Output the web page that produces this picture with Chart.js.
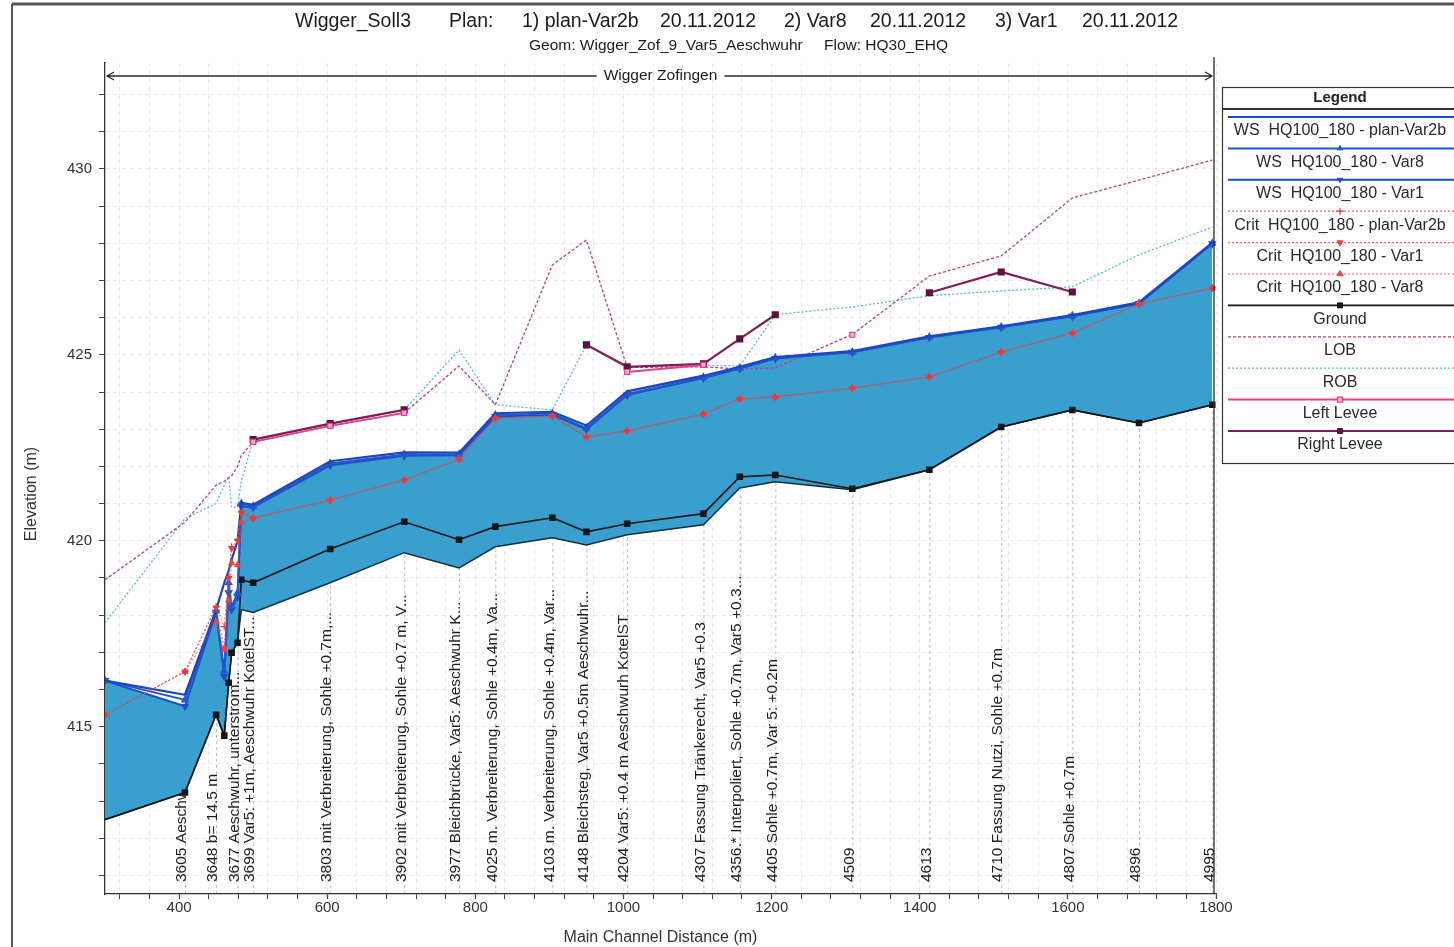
<!DOCTYPE html>
<html>
<head>
<meta charset="utf-8">
<title>Wigger_Soll3 – Längenprofil</title>
<script src="https://cdn.jsdelivr.net/npm/chart.js@4.4.1/dist/chart.umd.min.js"></script>
<style>
  html, body { margin: 0; padding: 0; background: #fff; overflow: hidden; }
  #wrap { position: relative; width: 1454px; height: 947px; }
</style>
</head>
<body>
<div id="wrap"><canvas id="profile" width="1454" height="947"></canvas></div>
<script>
const FONT = "'Liberation Sans', Arial, Helvetica, sans-serif";

// Main channel distance of every cross section (m)
const distance = [300, 408, 450, 461, 467, 471, 479, 484, 500, 604, 704, 778, 827, 904, 950, 1005, 1108, 1157, 1205, 1309, 1413, 1510, 1606, 1696, 1795];

// Channel invert (with markers) and the lower invert of the base geometry
const groundVar  = [412.5, 413.23, 415.32, 414.76, 416.18, 416.99, 417.26, 418.95, 418.87, 419.78, 420.51, 420.03, 420.38, 420.62, 420.24, 420.46, 420.73, 421.72, 421.77, 421.40, 421.91, 423.06, 423.52, 423.17, 423.66];
const groundBase = [412.5, 413.23, 415.32, 414.76, 416.18, 416.99, 417.26, 418.15, 418.07, 418.87, 419.68, 419.27, 419.84, 420.08, 419.89, 420.16, 420.43, 421.42, 421.59, 421.37, 421.91, 423.06, 423.52, 423.17, 423.66];

// Water surface HQ100_180 per plan
const wsVar2b = [416.24, 415.86, 418.15, 418.87, 419.2, 419.49, 420.0, 421.02, 420.97, 422.14, 422.38, 422.37, 423.43, 423.47, 423.1, 424.02, 424.44, 424.68, 424.94, 425.1, 425.5, 425.77, 426.07, 426.41, 428.02];
const wsVar8  = [416.24, 415.72, 418.12, 416.5, 418.87, 418.23, 418.6, 421.0, 420.93, 422.08, 422.32, 422.33, 423.38, 423.42, 423.03, 423.95, 424.4, 424.65, 424.92, 425.08, 425.48, 425.75, 426.05, 426.39, 428.0];
const wsVar1  = [416.24, 415.55, 418.08, 416.35, 418.6, 418.15, 418.5, 420.93, 420.9, 422.03, 422.29, 422.3, 423.34, 423.39, 423.0, 423.92, 424.38, 424.63, 424.9, 425.07, 425.47, 425.74, 426.04, 426.38, 427.99];

// Critical depth water level HQ100_180 per plan
const critVar2b = [415.32, 416.48, 418.23, 417.69, 419.03, 419.84, 420.03, 420.78, 420.62, 421.1, 421.64, 422.2, 423.3, 423.36, 422.8, 422.96, 423.41, 423.82, 423.87, 424.11, 424.41, 425.08, 425.59, 426.37, 426.8];
const critVar1  = [415.32, 416.48, 418.2, 417.1, 419.0, 419.8, 420.0, 420.75, 420.6, 421.08, 421.62, 422.18, 423.28, 423.34, 422.78, 422.94, 423.4, 423.8, 423.86, 424.1, 424.4, 425.07, 425.58, 426.36, 426.79];
const critVar8  = [415.32, 416.48, 417.8, 417.07, 418.4, 419.4, 419.35, 420.5, 420.6, 421.1, 421.64, 422.2, 423.3, 423.36, 422.8, 422.96, 423.41, 423.82, 423.87, 424.11, 424.41, 425.08, 425.59, 426.37, 426.8];

// Bank stations and levees
const lob = [418.95, 420.5, 421.5, 421.6, 421.7, 421.75, 422.0, 422.3, 422.66, 423.09, 423.44, 424.7, 423.66, 427.42, 428.09, 424.66, 424.68, 424.62, 424.65, 425.55, 427.12, 427.66, 429.22, 429.7, 430.24];
const rob = [417.8, 420.6, 421.0, 421.5, 421.72, 420.9, 420.9, 421.6, 422.7, 423.15, 423.52, 425.13, 423.66, 423.52, 425.27, 424.68, 424.72, 424.7, 426.08, 426.29, 426.59, 426.72, 426.83, 427.69, 428.44];
const leftLevee  = [null, null, null, null, null, null, null, null, 422.66, 423.09, 423.44, null, null, null, null, 424.54, 424.73, null, null, 425.54, null, null, null, null, null];
const rightLevee = [null, null, null, null, null, null, null, null, 422.72, 423.15, 423.52, null, null, null, 425.27, 424.68, 424.76, 425.43, 426.08, null, 426.67, 427.23, 426.69, null, null];

// Labelled cross sections (index into distance) and their descriptions
const stationLabelIdx = [1, 2, 6, 8, 9, 10, 11, 12, 13, 14, 15, 16, 17, 18, 19, 20, 21, 22, 23, 24];
const stationLabelText = [
  '3605 Aeschwuhr',
  '3648 b= 14.5 m',
  '3677 Aeschwuhr, unterstrom...',
  '3699 Var5: +1m, Aeschwuhr KotelST...',
  '3803 mit Verbreiterung, Sohle +0.7m,...',
  '3902 mit Verbreiterung, Sohle +0.7 m, V...',
  '3977 Bleichbrücke, Var5: Aeschwuhr K...',
  '4025 m. Verbreiterung, Sohle +0.4m, Va...',
  '4103 m. Verbreiterung, Sohle +0.4m, Var...',
  '4148 Bleichsteg, Var5 +0.5m Aeschwuhr...',
  '4204 Var5: +0.4 m Aeschwurh KotelST',
  '4307 Fassung Tränkerecht, Var5 +0.3',
  '4356.* Interpoliert, Sohle +0.7m, Var5 +0.3...',
  '4405 Sohle +0.7m, Var 5: +0.2m',
  '4509',
  '4613',
  '4710 Fassung Nutzi, Sohle +0.7m',
  '4807 Sohle +0.7m',
  '4896',
  '4995'
];

// Header and axis texts
const titleRuns = [
  [295, 'Wigger_Soll3'], [449, 'Plan:'], [522, '1) plan-Var2b'], [660, '20.11.2012'],
  [784, '2) Var8'], [870, '20.11.2012'], [995, '3) Var1'], [1082, '20.11.2012']
];
const subtitleRuns = [[529, 'Geom: Wigger_Zof_9_Var5_Aeschwuhr'], [824, 'Flow: HQ30_EHQ']];
const reachName = 'Wigger Zofingen';
const yAxisTitle = 'Elevation (m)';

const pts = arr => distance.map((x, i) => ({ x, y: arr[i] }));
// no marker on the outermost section, it sits on the axis
const groundMarks = distance.map((_, i) => (i === 0 ? 0 : 3.5));

const datasets = [
  { label: 'WS  HQ100_180 - plan-Var2b', data: pts(wsVar2b), borderColor: '#1a47c0', borderWidth: 2.2, pointRadius: 0, order: 2 },
  { label: 'WS  HQ100_180 - Var8', data: pts(wsVar8), borderColor: '#2456cc', borderWidth: 2, pointStyle: 'triangle', pointRadius: 3,
    pointBackgroundColor: '#2456cc', pointBorderColor: '#2456cc', order: 2 },
  { label: 'WS  HQ100_180 - Var1', data: pts(wsVar1), borderColor: '#1f4ec4', borderWidth: 2, pointStyle: 'triangle', pointRotation: 180, pointRadius: 3,
    pointBackgroundColor: '#1f4ec4', pointBorderColor: '#1f4ec4', order: 2 },
  { label: 'Crit  HQ100_180 - plan-Var2b', data: pts(critVar2b), borderColor: 'rgba(222,70,70,0.8)', borderWidth: 1, borderDash: [2, 2],
    pointStyle: 'cross', pointRadius: 3.5, pointBorderColor: '#e23a3a', pointBorderWidth: 1.2, order: 1 },
  { label: 'Crit  HQ100_180 - Var1', data: pts(critVar1), borderColor: 'rgba(222,70,70,0.8)', borderWidth: 1, borderDash: [2, 2],
    pointStyle: 'triangle', pointRotation: 180, pointRadius: 3.5, pointBackgroundColor: '#ec4242', pointBorderColor: '#ec4242', order: 1 },
  { label: 'Crit  HQ100_180 - Var8', data: pts(critVar8), borderColor: 'rgba(222,70,70,0.8)', borderWidth: 1, borderDash: [2, 2],
    pointStyle: 'triangle', pointRadius: 3.5, pointBackgroundColor: '#ec4242', pointBorderColor: '#ec4242', order: 1 },
  { label: 'Ground', data: pts(groundVar), borderColor: '#161616', borderWidth: 1.6, pointStyle: 'rect', pointRadius: groundMarks,
    pointBackgroundColor: '#161616', pointBorderColor: '#161616', order: 4 },
  { label: 'LOB', data: pts(lob), borderColor: '#b4428f', borderWidth: 1.3, borderDash: [3, 2], pointRadius: 0, order: 5 },
  { label: 'ROB', data: pts(rob), borderColor: '#58b5de', borderWidth: 1.3, borderDash: [2, 2], pointRadius: 0, order: 5 },
  { label: 'Left Levee', data: pts(leftLevee), borderColor: '#e2418a', borderWidth: 2, pointStyle: 'rect', pointRadius: 3.5,
    pointBackgroundColor: '#f5b3cd', pointBorderColor: '#e2418a', pointBorderWidth: 1.2, order: 3 },
  { label: 'Right Levee', data: pts(rightLevee), borderColor: '#7c2058', borderWidth: 2.2, pointStyle: 'rect', pointRadius: 3.5,
    pointBackgroundColor: '#5e1242', pointBorderColor: '#5e1242', order: 3 },
  { label: 'Ground (base)', data: pts(groundBase), borderColor: '#10303a', borderWidth: 1.5, pointRadius: 0, order: 6 },
  { label: 'Water', data: pts(wsVar1), borderWidth: 0, pointRadius: 0, backgroundColor: 'rgb(56,159,207)', fill: 11, order: 10 }
];
const LEGEND_COUNT = 11;

// Cross-section guides and labels, drawn beneath the water body
const stationPlugin = {
  id: 'stationLabels',
  beforeDatasetsDraw(chart) {
    const { ctx, chartArea: a, scales: { x, y } } = chart;
    ctx.save();
    ctx.beginPath();
    ctx.rect(a.left, a.top, a.right - a.left, a.bottom - a.top);
    ctx.clip();
    stationLabelIdx.forEach((idx, i) => {
      const px = x.getPixelForValue(distance[idx]);
      const bed = y.getPixelForValue(groundBase[idx]);
      ctx.strokeStyle = 'rgba(60,60,60,0.35)';
      ctx.lineWidth = 1;
      ctx.setLineDash([3, 3]);
      ctx.beginPath();
      ctx.moveTo(px + 0.5, a.bottom);
      ctx.lineTo(px + 0.5, bed);
      ctx.stroke();
      ctx.setLineDash([]);
      ctx.save();
      ctx.translate(px - 3, a.bottom - 12);
      ctx.rotate(-Math.PI / 2);
      ctx.font = `15.5px ${FONT}`;
      ctx.fillStyle = '#1e1e1e';
      ctx.textAlign = 'left';
      ctx.textBaseline = 'middle';
      ctx.fillText(stationLabelText[i], 0, 0);
      ctx.restore();
    });
    ctx.restore();
  }
};

// Title, axis title, reach bracket, legend box and frame
const decorPlugin = {
  id: 'decor',
  afterDraw(chart) {
    const { ctx, chartArea: a } = chart;
    ctx.save();
    // frame
    ctx.strokeStyle = '#555';
    ctx.lineWidth = 3;
    ctx.beginPath(); ctx.moveTo(12, 4); ctx.lineTo(1454, 4); ctx.stroke();
    ctx.lineWidth = 2;
    ctx.beginPath(); ctx.moveTo(12, 4); ctx.lineTo(12, 947); ctx.stroke();

    // titles
    ctx.fillStyle = '#1c1c1c';
    ctx.textBaseline = 'middle';
    ctx.textAlign = 'left';
    ctx.font = `19.5px ${FONT}`;
    titleRuns.forEach(([x, t]) => ctx.fillText(t, x, 22));
    ctx.font = `15.5px ${FONT}`;
    subtitleRuns.forEach(([x, t]) => ctx.fillText(t, x, 46));

    // vertical axis title
    ctx.save();
    ctx.translate(32, 494);
    ctx.rotate(-Math.PI / 2);
    ctx.textAlign = 'center';
    ctx.fillStyle = '#333';
    ctx.font = `16px ${FONT}`;
    ctx.fillText(yAxisTitle, 0, 0);
    ctx.restore();

    // reach bracket
    const yA = 76, L = a.left, R = a.right;
    ctx.strokeStyle = '#2a2a2a';
    ctx.lineWidth = 1.3;
    ctx.beginPath();
    ctx.moveTo(L, 62); ctx.lineTo(L, a.top);
    ctx.moveTo(R - 2, 57); ctx.lineTo(R - 2, a.bottom);
    ctx.stroke();
    ctx.font = `15.5px ${FONT}`;
    ctx.textAlign = 'center';
    const cx = (L + R) / 2;
    const w = ctx.measureText(reachName).width;
    ctx.fillText(reachName, cx, yA);
    ctx.beginPath();
    ctx.moveTo(L + 2, yA); ctx.lineTo(cx - w / 2 - 7, yA);
    ctx.moveTo(cx + w / 2 + 7, yA); ctx.lineTo(R - 4, yA);
    ctx.moveTo(L + 9, yA - 4); ctx.lineTo(L + 2, yA); ctx.lineTo(L + 9, yA + 4);
    ctx.moveTo(R - 11, yA - 4); ctx.lineTo(R - 4, yA); ctx.lineTo(R - 11, yA + 4);
    ctx.stroke();

    // legend
    const bx = 1222, by = 87, bw = 240, bh = 376;
    ctx.fillStyle = '#fff';
    ctx.fillRect(bx, by, bw, bh);
    ctx.strokeStyle = '#333';
    ctx.lineWidth = 1.2;
    ctx.strokeRect(bx + 0.5, by + 0.5, bw, bh);
    ctx.lineWidth = 2;
    ctx.beginPath(); ctx.moveTo(bx, by + 22); ctx.lineTo(bx + bw, by + 22); ctx.stroke();
    ctx.fillStyle = '#222';
    ctx.font = `bold 15px ${FONT}`;
    ctx.textAlign = 'center';
    ctx.fillText('Legend', 1340, by + 11);
    const ds = chart.data.datasets;
    for (let i = 0; i < LEGEND_COUNT; i++) {
      const d = ds[i];
      const ly = 117 + 31.4 * i;
      const r = Array.isArray(d.pointRadius) ? Math.max(...d.pointRadius) : d.pointRadius;
      ctx.save();
      ctx.strokeStyle = d.borderColor;
      ctx.lineWidth = Math.max(1.2, d.borderWidth);
      ctx.setLineDash(d.borderDash || []);
      ctx.beginPath(); ctx.moveTo(bx + 6, ly); ctx.lineTo(bx + bw - 4, ly); ctx.stroke();
      ctx.setLineDash([]);
      if (r > 0) {
        ctx.fillStyle = d.pointBackgroundColor || d.borderColor;
        ctx.strokeStyle = d.pointBorderColor || d.borderColor;
        ctx.lineWidth = d.pointBorderWidth || 1;
        Chart.helpers.drawPoint(ctx, {
          pointStyle: d.pointStyle, rotation: d.pointRotation || 0,
          radius: r, borderWidth: d.pointBorderWidth || 1
        }, 1340, ly);
      }
      ctx.restore();
      ctx.fillStyle = '#2a2a2a';
      ctx.font = `16px ${FONT}`;
      ctx.textAlign = 'center';
      ctx.fillText(d.label, 1340, ly + 14);
    }
    ctx.restore();
  }
};

new Chart(document.getElementById('profile'), {
  type: 'line',
  data: { datasets },
  plugins: [stationPlugin, decorPlugin],
  options: {
    responsive: false,
    animation: false,
    devicePixelRatio: 1,
    events: [],
    layout: { padding: { left: 0, top: 63, right: 238, bottom: 0 } },
    plugins: { legend: { display: false }, tooltip: { enabled: false }, title: { display: false } },
    scales: {
      x: {
        type: 'linear', min: 300, max: 1800,
        afterFit: s => { s.height = 53; },
        ticks: {
          stepSize: 40, autoSkip: false, maxRotation: 0, includeBounds: false, padding: 0,
          color: '#333', font: { family: FONT, size: 15 },
          callback: v => (v % 200 === 0 ? String(v) : '')
        },
        grid: {
          color: 'rgba(0,0,0,0.09)', lineWidth: 1, tickLength: 5, tickColor: '#444',
          tickWidth: c => (c.tick && c.tick.value % 200 === 0 ? 1.3 : 1)
        },
        border: { display: true, color: '#333', width: 1.3, dash: [4, 4] },
        title: { display: true, text: 'Main Channel Distance (m)', color: '#333', font: { family: FONT, size: 16 }, padding: { top: 0, bottom: 0 } }
      },
      y: {
        type: 'linear', min: 410.5, max: 432.85,
        afterFit: s => { s.width = 105; },
        ticks: {
          stepSize: 1, autoSkip: false, includeBounds: false, padding: 7,
          color: '#333', font: { family: FONT, size: 15 },
          callback: v => (Math.abs(v % 5) < 1e-6 ? String(v) : '')
        },
        grid: {
          color: 'rgba(0,0,0,0.09)', lineWidth: 1, tickLength: 6, tickColor: '#444'
        },
        border: { display: true, color: '#333', width: 1.3, dash: [4, 4] },
        title: { display: false }
      }
    }
  }
});
</script>
</body>
</html>
